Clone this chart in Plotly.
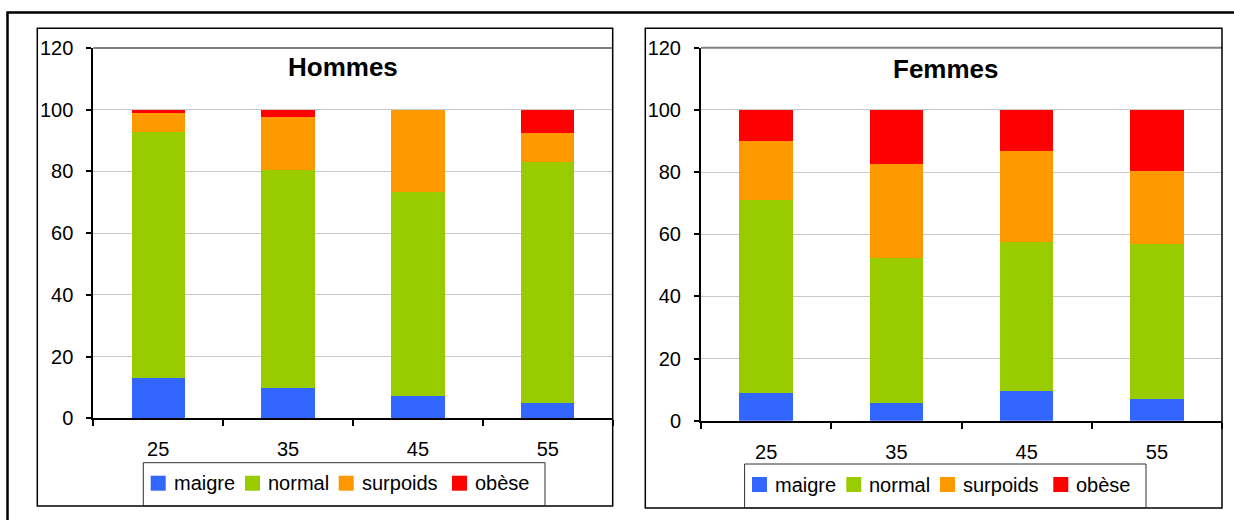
import plotly.graph_objects as go

# Data: share (%) of each BMI class by age group
AGES = ["25", "35", "45", "55"]
CLASSES = ["maigre", "normal", "surpoids", "obèse"]
COLORS = ["#3366FF", "#99CC00", "#FF9900", "#FF0000"]

hommes_maigre = [13.2, 9.9, 7.3, 4.9]
hommes_normal = [79.5, 70.5, 65.9, 78.1]
hommes_surpoids = [6.3, 17.3, 26.8, 9.5]
hommes_obese = [1.0, 2.3, 0.0, 7.5]

femmes_maigre = [8.8, 5.6, 9.5, 6.9]
femmes_normal = [62.2, 46.8, 48.1, 50.0]
femmes_surpoids = [19.1, 30.1, 29.3, 23.5]
femmes_obese = [9.9, 17.5, 13.1, 19.6]

Y_TICKS = [0, 20, 40, 60, 80, 100, 120]

W, H = 1234, 520
FONT = "Liberation Sans, Arial, sans-serif"


def fx(x):
    return x / W


def fy(y):
    return 1 - y / H


panels = [
    dict(title="Hommes", series=[hommes_maigre, hommes_normal, hommes_surpoids, hommes_obese],
         xa="x", ya="y", plot=(93.3, 612.7, 48.0, 418.3), box=(37.3, 612.7, 28.3, 506.0),
         title_pos=(343, 67), legend_box=(143.3, 545.0, 462.7, 506.0)),
    dict(title="Femmes", series=[femmes_maigre, femmes_normal, femmes_surpoids, femmes_obese],
         xa="x2", ya="y2", plot=(701.0, 1222.0, 47.7, 420.7), box=(645.3, 1222.0, 28.3, 508.0),
         title_pos=(946, 69), legend_box=(744.6, 1146.0, 464.0, 508.0)),
]

# horizontal offsets of legend swatches from the legend box's left edge
LEG_SWATCH_X = [7.4, 101.7, 195.4, 308.7]
SWATCH = 15
TEXT_GAP = 21

fig = go.Figure()
shapes = []
annotations = []

for p in panels:
    for name, vals, col in zip(CLASSES, p["series"], COLORS):
        fig.add_trace(go.Bar(
            x=AGES, y=vals, name=name, marker=dict(color=col, line=dict(width=0)),
            xaxis=p["xa"], yaxis=p["ya"], showlegend=False,
        ))

    x0, x1, y0, y1 = p["plot"]
    axis_key = "xaxis" if p["xa"] == "x" else "xaxis2"
    yaxis_key = "yaxis" if p["ya"] == "y" else "yaxis2"
    fig.layout[axis_key] = dict(
        domain=[fx(x0), fx(x1)], anchor=p["ya"], type="category", automargin=False,
        showline=True, linecolor="black", linewidth=2,
        ticks="outside", ticklen=6, tickcolor="black", tickwidth=1.5,
        tickson="boundaries", showgrid=False, ticklabelstandoff=12,
        tickfont=dict(family=FONT, size=20, color="black"),
    )
    fig.layout[yaxis_key] = dict(
        domain=[fy(y1), fy(y0)], anchor=p["xa"], range=[0, 120], automargin=False,
        tickvals=Y_TICKS, showline=True, linecolor="black", linewidth=2,
        ticks="outside", ticklen=5, tickcolor="black", tickwidth=1.5,
        showgrid=True, gridcolor="#C8C8C8", gridwidth=1, zeroline=False,
        ticklabelstandoff=9,
        tickfont=dict(family=FONT, size=20, color="black"),
    )

    # plot-area top edge
    shapes.append(dict(type="line", xref="paper", yref="paper",
                       x0=fx(x0), x1=fx(x1), y0=fy(y0), y1=fy(y0),
                       line=dict(color="#808080", width=2)))
    # chart box
    bx0, bx1, by0, by1 = p["box"]
    shapes.append(dict(type="rect", xref="paper", yref="paper",
                       x0=fx(bx0), x1=fx(bx1), y0=fy(by1), y1=fy(by0),
                       line=dict(color="black", width=1.5)))
    # title
    tx, ty = p["title_pos"]
    annotations.append(dict(text=f"<b>{p['title']}</b>", x=fx(tx), y=fy(ty),
                            xref="paper", yref="paper", showarrow=False,
                            xanchor="center", yanchor="middle",
                            font=dict(family=FONT, size=26, color="black")))
    # legend box and entries
    lx0, lx1, ly0, ly1 = p["legend_box"]
    shapes.append(dict(type="rect", xref="paper", yref="paper",
                       x0=fx(lx0), x1=fx(lx1), y0=fy(ly1), y1=fy(ly0),
                       line=dict(color="#303030", width=1)))
    cy = ly0 + 20.5
    for name, col, off in zip(CLASSES, COLORS, LEG_SWATCH_X):
        sx = lx0 + off
        shapes.append(dict(type="rect", xref="paper", yref="paper",
                           x0=fx(sx), x1=fx(sx + SWATCH),
                           y0=fy(cy + SWATCH / 2), y1=fy(cy - SWATCH / 2),
                           fillcolor=col, line=dict(width=0)))
        annotations.append(dict(text=name, x=fx(sx + TEXT_GAP), y=fy(cy),
                                xref="paper", yref="paper", showarrow=False,
                                xanchor="left", yanchor="middle",
                                font=dict(family=FONT, size=20, color="black")))

# outer frame
shapes.append(dict(type="rect", xref="paper", yref="paper",
                   x0=fx(7.5), x1=fx(1245), y0=fy(535), y1=fy(12.5),
                   line=dict(color="black", width=2.5)))

fig.update_layout(
    barmode="stack", bargap=0.59,
    width=W, height=H, margin=dict(l=0, r=0, t=0, b=0, autoexpand=False),
    paper_bgcolor="white", plot_bgcolor="white",
    shapes=shapes, annotations=annotations, showlegend=False,
    font=dict(family=FONT, color="black"),
)

fig.write_html("out.html")
